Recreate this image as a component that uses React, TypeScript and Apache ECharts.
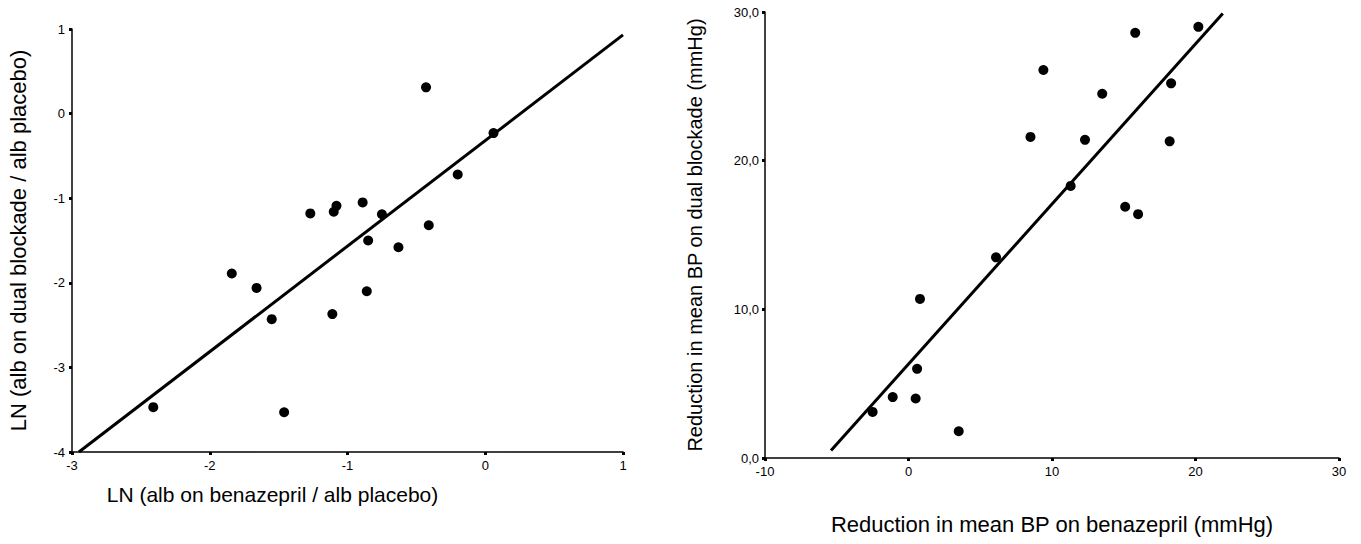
import React, { useEffect, useRef } from "react";
import * as echarts from "echarts";

// Left panel: LN ratios
const leftX = [-0.43, 0.06, -0.2, -0.89, -1.08, -1.1, -1.27, -0.75, -0.41, -0.85, -0.63, -1.84, -1.66, -0.86, -1.11, -1.55, -2.41, -1.46];
const leftY = [0.31, -0.23, -0.72, -1.05, -1.09, -1.16, -1.18, -1.19, -1.32, -1.5, -1.58, -1.89, -2.06, -2.1, -2.37, -2.43, -3.47, -3.53];
const leftLineX = [-2.95, 1.0];
const leftLineY = [-4.0, 0.93];
const leftXTicks = [-3, -2, -1, 0, 1];
const leftYTicks = [-4, -3, -2, -1, 0, 1];

// Right panel: BP reductions (mmHg)
const rightX = [20.2, 15.8, 9.4, 18.3, 13.5, 8.5, 12.3, 18.2, 11.3, 15.1, 16.0, 6.1, 0.8, 0.6, -1.1, 0.5, -2.5, 3.5];
const rightY = [29.0, 28.6, 26.1, 25.2, 24.5, 21.6, 21.4, 21.3, 18.3, 16.9, 16.4, 13.5, 10.7, 6.0, 4.1, 4.0, 3.1, 1.8];
const rightLineX = [-5.4, 21.9];
const rightLineY = [0.5, 29.9];
const rightXTicks = [-10, 0, 10, 20, 30];
const rightYTicks = [0, 10, 20, 30];

const FONT = "Liberation Sans, Arial, Helvetica, sans-serif";

export default function App() {
  const ref = useRef<HTMLDivElement>(null);
  useEffect(() => {
    if (!ref.current) return;
    const chart = echarts.init(ref.current, undefined, { renderer: "svg" });
    const axisLine = { show: true, onZero: false, lineStyle: { color: "#000", width: 1.5 } };
    const axisTick = { show: true, length: 3, lineStyle: { color: "#000", width: 3 } };
    const label = { color: "#000", fontFamily: FONT, fontSize: 13 };
    const nameStyle = { color: "#000", fontFamily: FONT, fontSize: 21 };
    chart.setOption({
      animation: false,
      backgroundColor: "#fff",
      grid: [
        { left: 72, top: 29, width: 551, height: 423 },
        { left: 765, top: 12, width: 574, height: 446 },
      ],
      xAxis: [
        {
          gridIndex: 0, type: "value",
          min: leftXTicks[0], max: leftXTicks[leftXTicks.length - 1], interval: 1,
          axisLine, axisTick, splitLine: { show: false },
          axisLabel: { ...label, margin: 7 },
          name: "LN (alb on benazepril / alb placebo)",
          nameLocation: "middle", nameGap: 32,
          nameTextStyle: { ...nameStyle, padding: [0, 150, 0, 0] },
        },
        {
          gridIndex: 1, type: "value",
          min: rightXTicks[0], max: rightXTicks[rightXTicks.length - 1], interval: 10,
          axisLine, axisTick, splitLine: { show: false },
          axisLabel: { ...label, margin: 7 },
          name: "Reduction in mean BP on benazepril (mmHg)",
          nameLocation: "middle", nameGap: 55, nameTextStyle: { ...nameStyle, fontSize: 22 },
        },
      ],
      yAxis: [
        {
          gridIndex: 0, type: "value",
          min: leftYTicks[0], max: leftYTicks[leftYTicks.length - 1], interval: 1,
          axisLine, axisTick, splitLine: { show: false },
          axisLabel: { ...label, margin: 7 },
          name: "LN (alb on dual blockade / alb placebo)",
          nameLocation: "middle", nameGap: 43, nameTextStyle: { ...nameStyle, fontSize: 22 },
        },
        {
          gridIndex: 1, type: "value",
          min: rightYTicks[0], max: rightYTicks[rightYTicks.length - 1], interval: 10,
          axisLine, axisTick, splitLine: { show: false },
          axisLabel: { ...label, margin: 6, formatter: (v: number) => v.toFixed(1).replace(".", ",") },
          name: "Reduction in mean BP on dual blockade (mmHg)",
          nameLocation: "middle", nameGap: 60, nameTextStyle: { ...nameStyle, fontSize: 20 },
        },
      ],
      series: [
        {
          type: "line", xAxisIndex: 0, yAxisIndex: 0,
          data: leftLineX.map((x, i) => [x, leftLineY[i]]),
          showSymbol: false, symbol: "none",
          lineStyle: { color: "#000", width: 3 },
        },
        {
          type: "scatter", xAxisIndex: 0, yAxisIndex: 0,
          data: leftX.map((x, i) => [x, leftY[i]]),
          symbolSize: 10, itemStyle: { color: "#000", opacity: 1 },
        },
        {
          type: "line", xAxisIndex: 1, yAxisIndex: 1,
          data: rightLineX.map((x, i) => [x, rightLineY[i]]),
          showSymbol: false, symbol: "none",
          lineStyle: { color: "#000", width: 3 },
        },
        {
          type: "scatter", xAxisIndex: 1, yAxisIndex: 1,
          data: rightX.map((x, i) => [x, rightY[i]]),
          symbolSize: 10, itemStyle: { color: "#000", opacity: 1 },
        },
      ],
    });
    return () => chart.dispose();
  }, []);
  return (
    <div
      ref={ref}
      style={{ position: "fixed", left: 0, top: 0, width: 1361, height: 544, background: "#fff" }}
    />
  );
}
